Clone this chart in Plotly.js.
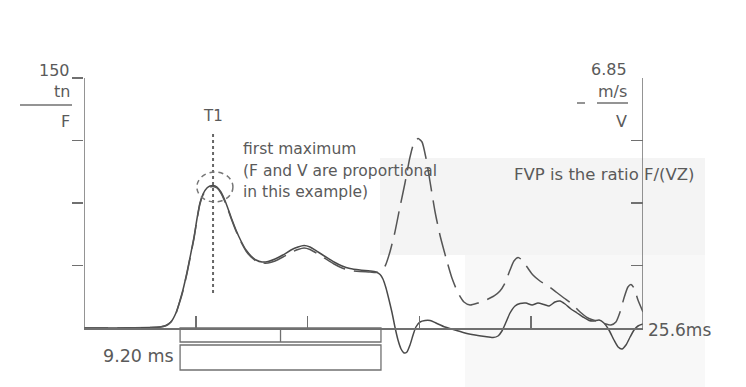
<!DOCTYPE html>
<html>
<head>
<meta charset="utf-8">
<script src="https://cdn.plot.ly/plotly-3.0.1.min.js"></script>
<style>html,body{margin:0;padding:0;background:#fff;}#chart{width:746px;height:387px;}</style>
</head>
<body>
<div id="chart"></div>
<script>
// ---- data ----
// time axis (ms), force F (tn) and velocity V (m/s)
var fullScaleTime = 25.6;      // ms
var forceScale = 150;          // tn
var velocityScale = 6.85;      // m/s
var tickStep = 5.12;           // ms
var t1Time = 5.91;             // ms, first maximum
var windowStart = 4.40;        // ms
var windowMs = 9.20;           // ms

var forceTime = [0,1.65,3.02,3.48,3.76,3.98,4.21,4.40,4.53,4.72,4.85,5.04,5.18,5.31,5.45,5.63,5.77,5.91,6.09,6.27,6.50,6.73,6.96,7.19,7.42,7.65,7.88,8.15,8.43,8.75,9.11,9.48,9.80,10.08,10.35,10.72,11.08,11.45,11.82,12.18,12.64,13.10,13.37,13.56,13.69,13.83,13.97,14.11,14.24,14.38,14.52,14.66,14.79,14.93,15.07,15.20,15.39,15.62,15.85,16.12,16.53,16.99,17.45,17.91,18.36,18.73,18.96,19.14,19.33,19.51,19.74,19.97,20.24,20.52,20.79,21.07,21.30,21.57,21.80,22.03,22.30,22.58,22.85,23.13,23.36,23.59,23.81,24.04,24.27,24.46,24.64,24.82,25.01,25.19,25.37,25.60];
var forceTn = [0,0,0.3,0.6,1.5,3.6,9,16.8,22.8,33.6,42,54.6,66,75,80.4,84,85.2,85.5,84.6,81.6,75,66.6,58.8,52.2,46.8,43.2,40.8,39.6,39.9,41.4,43.8,46.8,48.6,49.5,48.6,45.6,42.6,39.6,37.2,35.7,34.8,34.2,33.6,32.1,29.4,24,16.8,9,0.6,-7.2,-12.6,-15,-14.4,-10.2,-4.2,0.6,3.6,4.5,4.5,3,0.6,-1.2,-3,-4.2,-5.1,-5.7,-4.8,-1.8,3.6,9,13.2,14.7,15,13.8,15,14.1,13.2,15.6,16.2,14.4,11.4,9,6.6,4.5,4.2,4.8,3,-1.2,-7.2,-11.4,-12.6,-10.2,-5.4,-1.2,1.2,2.4];

var velTime = [0,1.65,3.02,3.48,3.76,3.98,4.21,4.40,4.53,4.72,4.85,5.04,5.18,5.31,5.45,5.63,5.77,5.91,6.09,6.27,6.50,6.73,6.96,7.19,7.42,7.65,7.88,8.15,8.43,8.75,9.11,9.48,9.80,10.08,10.35,10.72,11.08,11.45,11.82,12.18,12.64,13.10,13.37,13.56,13.79,14.01,14.24,14.47,14.70,14.93,15.11,15.30,15.48,15.66,15.85,16.07,16.30,16.58,16.85,17.13,17.40,17.68,18.04,18.41,18.78,19.05,19.28,19.51,19.69,19.88,20.06,20.29,20.56,20.88,21.25,21.62,21.98,22.35,22.72,23.08,23.45,23.81,24.13,24.36,24.55,24.73,24.91,25.05,25.19,25.37,25.60];
var velMs = [0,0,0.014,0.027,0.069,0.164,0.397,0.740,1.014,1.507,1.891,2.466,2.987,3.398,3.644,3.809,3.864,3.877,3.836,3.699,3.398,3.014,2.658,2.356,2.110,1.945,1.836,1.781,1.781,1.836,1.945,2.069,2.151,2.192,2.151,2.028,1.891,1.754,1.644,1.576,1.548,1.534,1.521,1.562,1.699,2.082,2.630,3.315,3.973,4.685,5.069,5.192,5.096,4.658,4.000,3.206,2.548,1.918,1.370,0.959,0.712,0.630,0.685,0.767,0.877,1.014,1.233,1.589,1.836,1.932,1.863,1.671,1.452,1.288,1.151,0.986,0.822,0.658,0.438,0.274,0.192,0.123,0.082,0.164,0.438,0.822,1.123,1.192,1.096,0.767,0.438];

var leftTickVals = [37.5, 75, 112.5, 150];
var rightTickVals = [1.7125, 3.425, 5.1375, 6.85];
var xTickVals = [5.12, 10.24, 15.36, 20.48];

// ---- layout helpers (pixel -> paper) ----
var L = 84, R = 643, T = 78, B = 378;
function px(x){ return (x - L) / (R - L); }
function py(y){ return (B - y) / (B - T); }
var fMin = -(B - 328) * forceScale / 250;
var vMin = fMin * velocityScale / forceScale;

var ink = '#5a5a5a';
var axisCol = '#707070';
var font = 'DejaVu Sans, Verdana, sans-serif';

var traces = [
  {x: forceTime, y: forceTn, type: 'scatter', mode: 'lines', line: {color: '#4a4a4a', width: 1.5, shape: 'spline', smoothing: 0.6}, yaxis: 'y', hoverinfo: 'skip'},
  {x: velTime, y: velMs, type: 'scatter', mode: 'lines', line: {color: '#555555', width: 1.5, dash: '24px,9px', shape: 'spline', smoothing: 0.6}, yaxis: 'y2', hoverinfo: 'skip'}
];

function ann(text, x, y, size, xanchor){
  return {text: text, xref: 'paper', yref: 'paper', x: px(x), y: py(y), xanchor: xanchor || 'center', yanchor: 'middle', showarrow: false, font: {family: font, size: size, color: ink}};
}
function pline(x0, y0, x1, y1, w){
  return {type: 'line', xref: 'paper', yref: 'paper', x0: px(x0), y0: py(y0), x1: px(x1), y1: py(y1), line: {color: axisCol, width: w || 1.5}};
}

var shapes = [
  // faint scan shading
  {type: 'rect', xref: 'paper', yref: 'paper', x0: px(380), x1: px(705), y0: py(255), y1: py(158), fillcolor: '#f4f4f4', line: {width: 0}, layer: 'below'},
  {type: 'rect', xref: 'paper', yref: 'paper', x0: px(465), x1: px(705), y0: py(390), y1: py(255), fillcolor: '#f8f8f8', line: {width: 0}, layer: 'below'},
  // axis lines
  {type: 'line', xref: 'x', yref: 'y', x0: 0, x1: 0, y0: 0, y1: forceScale, line: {color: axisCol, width: 1.5}},
  {type: 'line', xref: 'x', yref: 'y', x0: fullScaleTime, x1: fullScaleTime, y0: 0, y1: forceScale, line: {color: axisCol, width: 1.5}},
  // T1 dotted marker
  {type: 'line', xref: 'x', yref: 'y', x0: t1Time, x1: t1Time, y0: 21, y1: 117, line: {color: '#666', width: 2, dash: '3px,3px'}},
  // dashed circle round first maximum
  {type: 'circle', xref: 'x', yref: 'y', x0: 5.17, x1: 6.82, y0: 75.6, y1: 93.6, line: {color: '#777', width: 1.5, dash: '5px,4px'}},
  // window bracket below axis
  {type: 'rect', xref: 'x', yref: 'y', x0: windowStart, x1: windowStart + windowMs, y0: -8.4, y1: 0, line: {color: axisCol, width: 1.3}},
  {type: 'line', xref: 'x', yref: 'y', x0: windowStart + windowMs / 2, x1: windowStart + windowMs / 2, y0: -8.4, y1: -1, line: {color: axisCol, width: 1.3}},
  {type: 'rect', xref: 'x', yref: 'y', x0: windowStart, x1: windowStart + windowMs, y0: -25.2, y1: -10.2, line: {color: axisCol, width: 1.3}},
  // unit fraction bars
  pline(20, 105, 72, 105, 1.5),
  pline(597, 103, 628, 103, 1.5),
  pline(577, 103, 585, 103, 1.5)
];

var annotations = [
  ann(String(forceScale), 72, 70, 16, 'right'),
  ann('tn', 72, 91, 16, 'right'),
  ann('F', 72, 121, 16, 'right'),
  ann(String(velocityScale), 629, 69, 16, 'right'),
  ann('m/s', 629, 91, 16, 'right'),
  ann('V', 629, 121, 16, 'right'),
  ann('T1', 213, 116, 15),
  ann('first maximum', 241, 149, 15.5, 'left'),
  ann('(F and V are proportional', 241, 171, 15.5, 'left'),
  ann('in this example)', 241, 192, 15.5, 'left'),
  ann('FVP is the ratio F/(VZ)', 512, 174, 16.5, 'left'),
  ann(fullScaleTime + 'ms', 646, 330, 17, 'left'),
  ann(windowMs.toFixed(2) + ' ms', 176, 356, 17.5, 'right')
];

var layout = {
  width: 746, height: 387,
  margin: {l: L, r: 746 - R, t: T, b: 387 - B, pad: 0},
  paper_bgcolor: '#ffffff', plot_bgcolor: 'rgba(0,0,0,0)',
  showlegend: false,
  xaxis: {range: [0, fullScaleTime], anchor: 'free', position: (0 - fMin) / (forceScale - fMin),
    showline: true, linecolor: axisCol, linewidth: 1.5, showgrid: false, zeroline: false,
    tickmode: 'array', tickvals: xTickVals, ticks: 'inside', ticklen: 12, tickwidth: 1.5, tickcolor: axisCol, showticklabels: false},
  yaxis: {range: [fMin, forceScale], showline: false, showgrid: false, zeroline: false,
    tickmode: 'array', tickvals: leftTickVals, ticks: 'outside', ticklen: 11, tickwidth: 1.5, tickcolor: axisCol, showticklabels: false},
  yaxis2: {range: [vMin, velocityScale], overlaying: 'y', side: 'right', showline: false, showgrid: false, zeroline: false,
    tickmode: 'array', tickvals: rightTickVals, ticks: 'inside', ticklen: 12, tickwidth: 1.5, tickcolor: axisCol, showticklabels: false},
  shapes: shapes,
  annotations: annotations
};

Plotly.newPlot('chart', traces, layout, {staticPlot: true, displayModeBar: false});
</script>
</body>
</html>
